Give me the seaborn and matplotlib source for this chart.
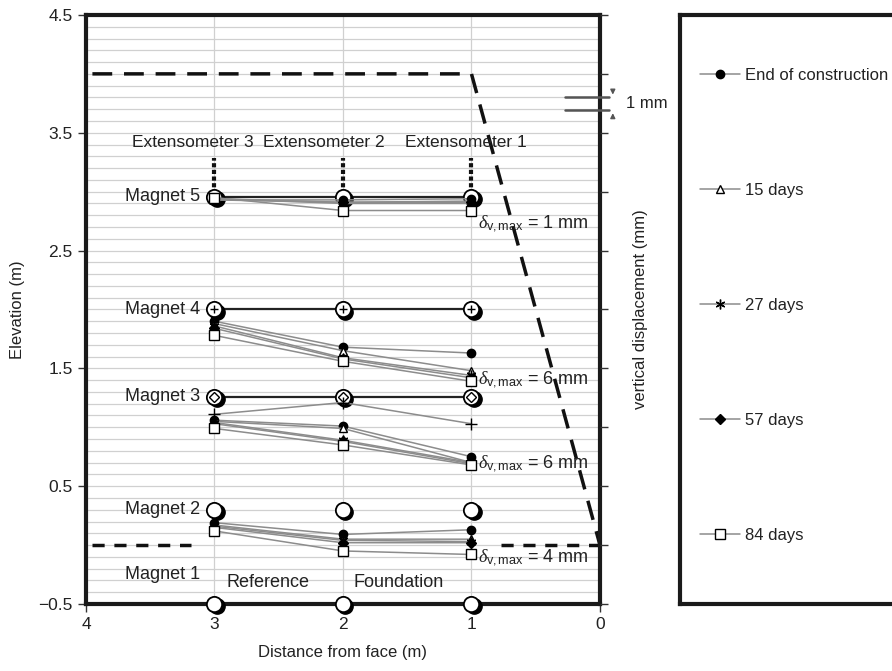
import numpy as np
import pandas as pd
import matplotlib
matplotlib.use('Agg')
import matplotlib.pyplot as plt
import matplotlib.transforms as mtransforms
from matplotlib.lines import Line2D
import seaborn as sns

# extensometer positions (distance from face, m)
positions = [3, 2, 1]
magnets = ['Magnet 5', 'Magnet 4', 'Magnet 3', 'Magnet 2']
init_elev = [2.955, 2.0, 1.26, 0.30]
magnet1_elev = -0.5
inner_marks = [None, '+', 'D', None]

# displaced positions (exaggerated), one row per magnet, cols = positions
end_constr = [[2.93, 2.93, 2.94], [1.90, 1.68, 1.63], [1.06, 1.01, 0.75], [0.19, 0.09, 0.13]]
days_15 = [[2.94, 2.91, 2.92], [1.88, 1.65, 1.48], [1.05, 0.99, 0.70], [0.17, 0.05, 0.05]]
days_27 = [[2.94, 2.90, 2.90], [1.86, 1.59, 1.44], [1.04, 0.89, 0.70], [0.16, 0.04, 0.03]]
days_57 = [[2.93, 2.91, 2.91], [1.84, 1.58, 1.42], [1.03, 0.88, 0.69], [0.15, 0.02, 0.02]]
days_84 = [[2.95, 2.84, 2.84], [1.78, 1.56, 1.39], [0.99, 0.85, 0.68], [0.12, -0.05, -0.08]]
magnet3_extra = [1.11, 1.21, 1.03]

series_labels = ['End of construction', '15 days', '27 days', '57 days', '84 days']
series_vals = [end_constr, days_15, days_27, days_57, days_84]
series_marker = ['o', '^', (6, 2, 0), 'D', 's']
series_ms = [6, 6, 7, 5, 7]
series_mfc = ['black', 'white', 'black', 'black', 'white']

dmax_labels = ['1 mm', '6 mm', '6 mm', '4 mm']
dmax_elev = [2.73, 1.40, 0.69, -0.11]

# wall outline (dashed) and ground line
wall_x = [3.95, 1.0, 0.0]
wall_y = [4.0, 4.0, 0.0]
ground_left_x = [3.95, 3.18]
ground_right_x = [0.77, 0.0]
ground_y = 0.0

ext_labels = ['Extensometer 3', 'Extensometer 2', 'Extensometer 1']
ext_label_x = [3.17, 2.15, 1.04]
ext_top, ext_bottom = 3.29, 2.98

rows = []
for lab, vals in zip(series_labels, series_vals):
    for mag, v in zip(magnets, vals):
        for d, e in zip(positions, v):
            rows.append({'series': lab, 'magnet': mag, 'dist': d, 'elev': e})
df = pd.DataFrame(rows)

sns.set_style('white')
plt.rcParams['font.family'] = ['Liberation Sans', 'DejaVu Sans']
plt.rcParams['mathtext.fontset'] = 'custom'
plt.rcParams['mathtext.rm'] = 'Liberation Sans'
plt.rcParams['mathtext.it'] = 'Liberation Serif:italic'

txt = '#222222'
fig = plt.figure(figsize=(8.92, 6.71), dpi=100)
ax = fig.add_axes([0.0964, 0.0999, 0.5762, 0.8778])

ax.set_xlim(4, 0)
ax.set_ylim(-0.5, 4.5)
ax.set_yticks(np.arange(-0.5, 4.51, 1.0))
ax.set_yticklabels(['\u22120.5', '0.5', '1.5', '2.5', '3.5', '4.5'])
ax.set_xticks([4, 3, 2, 1, 0])
ax.set_yticks(np.arange(-0.5, 4.51, 0.1), minor=True)
ax.grid(which='minor', axis='y', color='#d0d0d0', lw=0.9)
ax.grid(which='major', axis='y', color='#d0d0d0', lw=0.9)
ax.grid(which='major', axis='x', color='#d0d0d0', lw=0.9)
ax.tick_params(which='minor', length=0)
ax.tick_params(which='major', direction='out', length=6, width=1, labelsize=12.5,
               bottom=True, left=True, color='#333', labelcolor=txt)
for s in ax.spines.values():
    s.set_linewidth(3)
    s.set_color('#1a1a1a')
ax.set_axisbelow(True)
ax.set_xlabel('Distance from face (m)', fontsize=12, labelpad=9, color=txt)
ax.set_ylabel('Elevation (m)', fontsize=12, labelpad=10, color=txt)

# right axis
rax = ax.twinx()
rax.set_ylim(-0.5, 4.5)
rax.set_yticks(np.arange(-0.5, 4.51, 0.5))
rax.set_yticklabels([])
rax.tick_params(direction='out', length=6, width=1, right=True, color='#333')
rax.set_ylabel('vertical displacement (mm)', fontsize=12, labelpad=14, color=txt)
for s in rax.spines.values():
    s.set_visible(False)

# dashed wall + ground
ax.plot(wall_x, wall_y, color='#111', lw=2.5, dashes=(5.7, 3.4), zorder=2)
ax.plot(ground_left_x, [ground_y] * 2, color='#111', lw=2.5, dashes=(3.5, 2.8), zorder=2)
ax.plot(ground_right_x, [ground_y] * 2, color='#111', lw=2.5, dashes=(3.5, 2.8), zorder=2)

# extensometers
for x in positions:
    ax.plot([x, x], [ext_bottom, ext_top], color='#111', lw=3, ls=(0, (1, 0.6)), zorder=2)
for x, lab in zip(ext_label_x, ext_labels):
    ax.text(x, 3.42, lab, ha='center', va='center', fontsize=12.5, color=txt)

# baseline lines connecting initial magnet positions
for e in init_elev[:3]:
    ax.plot([positions[0], positions[-1]], [e, e], color='#222', lw=1.6, zorder=3)

# initial magnet positions: hollow circles with dark shadow
shadow = mtransforms.offset_copy(ax.transData, fig=fig, x=2.5, y=-2.5, units='dots')
all_init = init_elev + [magnet1_elev]
for e in all_init:
    ax.plot(positions, [e] * 3, 'o', ms=11, mfc='black', mec='black', transform=shadow,
            zorder=5, clip_on=False)
    ax.plot(positions, [e] * 3, 'o', ms=11, mfc='white', mec='black', mew=1.3,
            zorder=6, clip_on=False)
for e, im in zip(init_elev, inner_marks):
    if im is None:
        continue
    ax.plot(positions, [e] * 3, ls='none', marker=im, ms=6 if im != 'D' else 5,
            mfc='white', mec='black', mew=1, zorder=7)

# displaced positions
for lab, m, ms, mfc in zip(series_labels, series_marker, series_ms, series_mfc):
    sub = df[df['series'] == lab]
    sns.lineplot(data=sub, x='dist', y='elev', units='magnet', estimator=None, sort=False,
                 color='#8c8c8c', lw=1.1, marker=m, ms=ms, mfc=mfc, mec='black', mew=1,
                 legend=False, ax=ax, zorder=8)
ax.plot(positions, magnet3_extra, color='#8c8c8c', lw=1.1, marker='+', ms=8,
        mec='black', mew=1, zorder=8)

# magnet labels
for lab, e in zip(magnets, init_elev):
    ax.text(3.11, e, lab, ha='right', va='center', fontsize=13, color=txt)
ax.text(3.11, -0.25, 'Magnet 1', ha='right', va='center', fontsize=13, color=txt)
ax.text(2.58, -0.32, 'Reference', ha='center', va='center', fontsize=13, color=txt)
ax.text(1.57, -0.32, 'Foundation', ha='center', va='center', fontsize=13, color=txt)

# delta max labels
for lab, e in zip(dmax_labels, dmax_elev):
    ax.text(0.95, e, r'$\delta_{\mathrm{v,max}}$ = ' + lab, ha='left', va='center',
            fontsize=13, color=txt, zorder=9)

# 1 mm scale
for e in [3.80, 3.69]:
    ax.plot([0.27, -0.07], [e, e], color='#555', lw=1.8, clip_on=False, zorder=8)
ax.annotate('', xy=(-0.10, 3.80), xytext=(-0.10, 3.88), annotation_clip=False,
            arrowprops=dict(arrowstyle='-|>', color='#555', lw=1, mutation_scale=7))
ax.annotate('', xy=(-0.10, 3.69), xytext=(-0.10, 3.61), annotation_clip=False,
            arrowprops=dict(arrowstyle='-|>', color='#555', lw=1, mutation_scale=7))
ax.text(-0.2, 3.745, '1 mm', ha='left', va='center', fontsize=12, color=txt)

# legend box
lax = fig.add_axes([0.762, 0.0999, 0.30, 0.8778])
lax.set_xticks([])
lax.set_yticks([])
for s in lax.spines.values():
    s.set_linewidth(3)
    s.set_color('#1a1a1a')
handles = [Line2D([], [], color='#8c8c8c', lw=1.1, marker=m, ms=ms, mfc=mfc, mec='black', mew=1)
           for m, ms, mfc in zip(series_marker, series_ms, series_mfc)]
leg = lax.legend(handles, series_labels, loc='upper left', bbox_to_anchor=(0.075, 0.91),
                 frameon=False, fontsize=12, labelspacing=6.0, handlelength=2.4,
                 handletextpad=0.3, borderaxespad=0, borderpad=0)
for t in leg.get_texts():
    t.set_color(txt)

fig.savefig('out.png', dpi=100)
